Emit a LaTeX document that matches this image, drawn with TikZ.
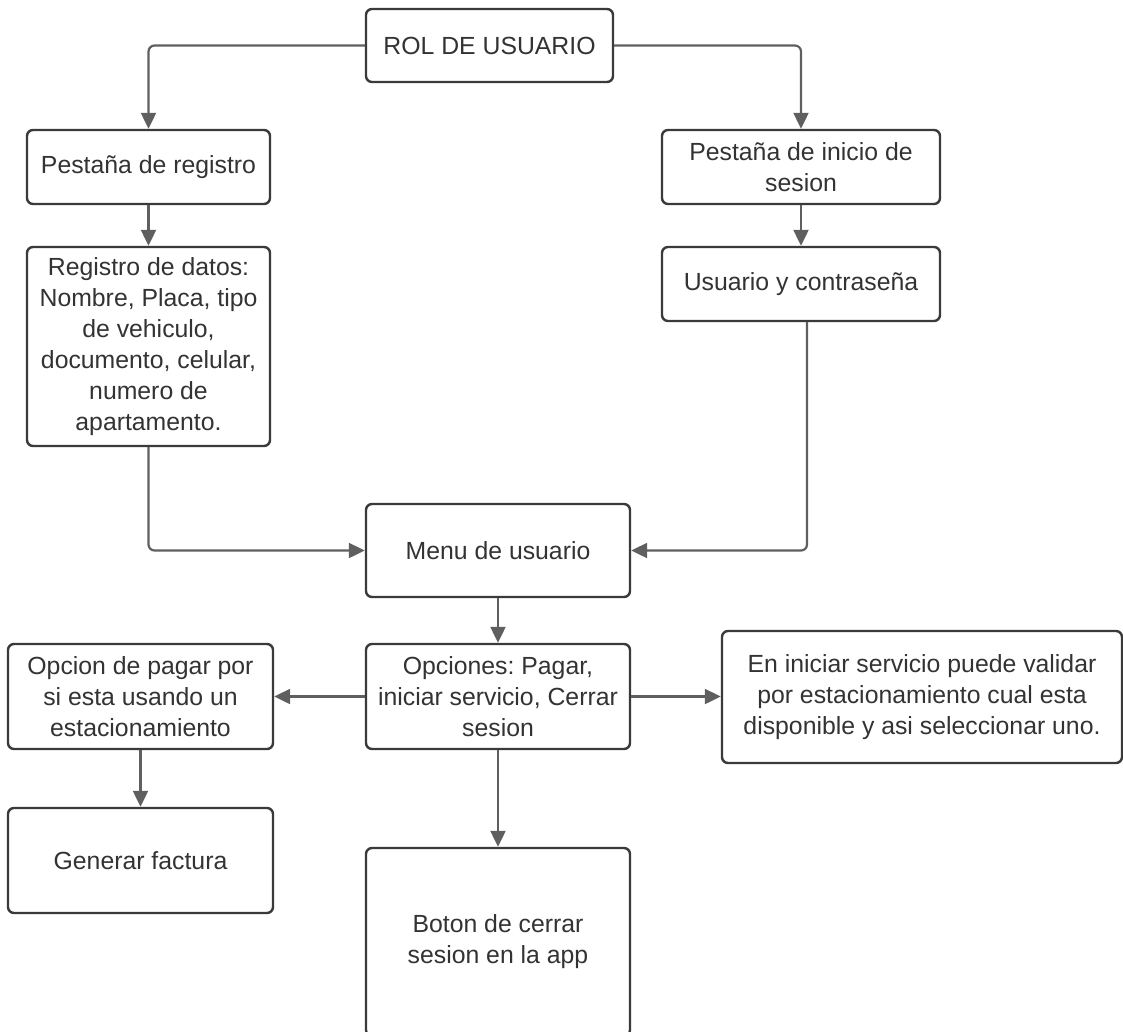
\documentclass[tikz,border=0pt]{standalone}
\usepackage{fontspec}
\setmainfont{Liberation Sans}
\usetikzlibrary{arrows.meta}
\definecolor{boxline}{HTML}{3A3A3A}
\definecolor{txt}{HTML}{333333}
\definecolor{wire}{HTML}{5F5F5F}
\frenchspacing

\begin{document}
\begin{tikzpicture}[x=1pt,y=-1pt,
  box/.style={draw=boxline, line width=2.4pt, rounded corners=6pt, fill=white,
    inner sep=0pt, align=center, text=txt,
    font=\fontsize{24.8}{31}\selectfont},
  link/.style={draw=wire, line width=2.2pt, rounded corners=6pt,
    -{Triangle[length=16pt,width=15pt]}}]
\useasboundingbox (0,0) rectangle (1123,1031);

% boxes
\node[box, minimum width=247pt, minimum height=73pt] (rol) at (489.5,45.5) {ROL DE USUARIO};
\node[box, minimum width=243pt, minimum height=74pt] (reg) at (148.5,167) {Pestaña de registro};
\node[box, minimum width=278pt, minimum height=74pt] (ini) at (801,167) {Pestaña de inicio de\\sesion};
\node[box, minimum width=243pt, minimum height=199pt] (datos) at (148.5,346.5)
  {Registro de datos:\\Nombre, Placa, tipo\\de vehiculo,\\documento, celular,\\numero de\\apartamento.};
\node[box, minimum width=278pt, minimum height=74pt] (user) at (801,284) {Usuario y contraseña};
\node[box, minimum width=264pt, minimum height=93pt] (menu) at (498,550.5) {Menu de usuario};
\node[box, minimum width=264pt, minimum height=105pt] (opc) at (498,696.5)
  {Opciones: Pagar,\\iniciar servicio, Cerrar\\sesion};
\node[box, minimum width=265pt, minimum height=105pt] (pagar) at (140.5,696.5)
  {Opcion de pagar por\\si esta usando un\\estacionamiento};
\node[box, minimum width=400pt, minimum height=132pt] (serv) at (922,697)
  {En iniciar servicio puede validar\\por estacionamiento cual esta\\disponible y asi seleccionar uno.};
\node[box, minimum width=265pt, minimum height=105pt] (fact) at (140.5,860.5) {Generar factura};
\node[box, minimum width=264pt, minimum height=188pt] (boton) at (498,942)
  {Boton de cerrar\\sesion en la app};

% connectors
\draw[link] (rol.west) -| (reg.north);
\draw[link] (rol.east) -| (ini.north);
\draw[link] (reg.south) -- (datos.north);
\draw[link] (ini.south) -- (user.north);
\draw[link] (datos.south) |- (menu.west);
\draw[link] ([xshift=6pt]user.south) |- (menu.east);
\draw[link] (menu.south) -- (opc.north);
\draw[link] (opc.west) -- (pagar.east);
\draw[link] (opc.east) -- (opc.east -| serv.west);
\draw[link] (pagar.south) -- (fact.north);
\draw[link] (opc.south) -- (boton.north);
\end{tikzpicture}
\end{document}
